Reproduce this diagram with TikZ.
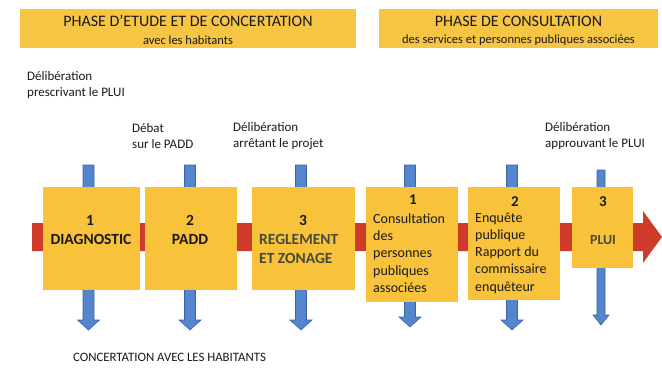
\documentclass[tikz,border=0pt]{standalone}
\usepackage{fontspec}
\setmainfont{Carlito}
\definecolor{boxy}{HTML}{F8C23A}
\definecolor{bany}{HTML}{F6C544}
\definecolor{redbar}{HTML}{CF3B2A}
\definecolor{bluear}{HTML}{5585CC}
\definecolor{blueline}{HTML}{3E64A0}
\definecolor{txt}{HTML}{1A1A1A}
\definecolor{txtgray}{HTML}{4A4A3A}
\newcommand{\blarrow}[5]{% x, top, tip, half shaft, half head
  \filldraw[fill=bluear,draw=blueline,line width=0.6pt]
    (#1-#4,#2) -- (#1+#4,#2) -- (#1+#4,#3-10) -- (#1+#5,#3-10) -- (#1,#3)
    -- (#1-#5,#3-10) -- (#1-#4,#3-10) -- cycle;}
\begin{document}
\begin{tikzpicture}[x=1pt,y=-1pt,
  every node/.style={text=txt,inner sep=0pt},
  banner/.style={fill=bany,minimum height=39pt},
  boxnode/.style={fill=boxy},
  hdr/.style={font=\fontsize{16}{18}\selectfont},
  sub/.style={font=\fontsize{12.5}{14}\selectfont},
  lbl/.style={font=\fontsize{13}{16}\selectfont,align=left,anchor=west},
  big/.style={font=\bfseries\fontsize{15.5}{19}\selectfont},
  num/.style={font=\bfseries\fontsize{15}{18}\selectfont},
  body/.style={font=\fontsize{14}{17.3}\selectfont,align=left,anchor=west}]
\useasboundingbox (0,0) rectangle (662,370);
\fill[white] (0,0) rectangle (662,370);

% banners
\node[banner,minimum width=336pt] (ban1) at (188,28.5) {};
\node[hdr] (ban1t) at (188,20.5) {PHASE D’ETUDE ET DE CONCERTATION};
\node[sub] (ban1s) at (188,40) {avec les habitants};
\node[banner,minimum width=279pt] (ban2) at (518.5,28.5) {};
\node[hdr] (ban2t) at (518.5,21) {PHASE DE CONSULTATION};
\node[sub] (ban2s) at (518.5,40) {des services et personnes publiques associées};

% labels
\node[lbl] (l1) at (27,85) {Délibération\\prescrivant le PLUI};
\node[lbl] (l2) at (132,136) {Débat\\sur le PADD};
\node[lbl] (l3) at (233,136) {Délibération\\arrêtant le projet};
\node[lbl] (l4) at (545,136) {Délibération\\approuvant le PLUI};

% red main arrow
\coordinate (rstart) at (32,237);
\coordinate (rtip) at (662,237);
\fill[redbar] (32,223) -- (643,223) -- (643,211) -- (rtip) -- (643,263) -- (643,251) -- (32,251) -- cycle;

% blue arrows
\blarrow{88.5}{165}{330}{5.5}{11}
\blarrow{190}{165}{330}{5.5}{11}
\blarrow{301}{165}{330}{5.5}{11}
\blarrow{410}{165}{327}{5.5}{11}
\blarrow{512}{165}{330}{5.5}{11}
\blarrow{601}{170}{325}{4}{8}

% boxes
\node[boxnode,minimum width=97pt,minimum height=103pt] (b1) at (91.5,238.5) {};
\node[boxnode,minimum width=92pt,minimum height=103pt] (b2) at (191,238.5) {};
\node[boxnode,minimum width=103pt,minimum height=103pt] (b3) at (303.5,238.5) {};
\node[boxnode,minimum width=92pt,minimum height=115pt] (b4) at (412,244.5) {};
\node[boxnode,minimum width=92pt,minimum height=113pt] (b5) at (514,243.5) {};
\node[boxnode,minimum width=61pt,minimum height=81pt] (b6) at (602.5,227.5) {};

% box texts
\node[big] (b1n) at (90,220) {1};
\node[big] (b1t) at (91,239) {DIAGNOSTIC};
\node[big] (b2n) at (190,220) {2};
\node[big] (b2t) at (190,239) {PADD};
\node[big] (b3n) at (303,220) {3};
\node[big,align=left,anchor=west,text=txtgray] (b3t) at (259,248.5) {REGLEMENT\\ET ZONAGE};
\node[num] (b4n) at (413,200) {1};
\node[body] (b4t) at (373,253) {Consultation\\des\\personnes\\publiques\\associées};
\node[num] (b5n) at (515,202) {2};
\node[body] (b5t) at (475,253) {Enquête\\publique\\Rapport du\\commissaire\\enquêteur};
\node[num] (b6n) at (603,202) {3};
\node[font=\bfseries\fontsize{14}{17}\selectfont,text=txtgray] (b6t) at (603,240) {PLUI};

% bottom text
\node[font=\fontsize{12.8}{15}\selectfont] (bottom) at (169.5,357) {CONCERTATION AVEC LES HABITANTS};
\end{tikzpicture}
\end{document}
